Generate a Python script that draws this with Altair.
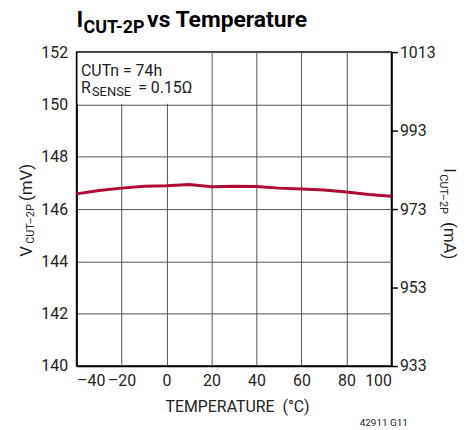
import altair as alt
import pandas as pd

# ---- data ----
temps = [-40, -30, -20, -10, 0, 10, 20, 30, 40, 50, 60, 70, 80, 90, 100]
vcut_mv = [146.58, 146.71, 146.80, 146.87, 146.89, 146.94, 146.85, 146.87,
           146.86, 146.80, 146.77, 146.73, 146.65, 146.56, 146.49]
rsense = 0.15
x_ticks = [-40, -20, 0, 20, 40, 60, 80, 100]
left_ticks = [140, 142, 144, 146, 148, 150, 152]
right_ticks = [933, 953, 973, 993, 1013]

df = pd.DataFrame({"temp": temps, "v": vcut_mv})
one = pd.DataFrame({"k": [0]})

FONT = "Roboto"
RED = "#ae0b36"

base = alt.Chart(df)

line = base.mark_line(color=RED, strokeWidth=3).encode(
    x=alt.X("temp:Q", scale=alt.Scale(domain=[-40, 100], nice=False, zero=False),
            axis=alt.Axis(values=x_ticks, title=None, grid=True, ticks=False,
                          labelPadding=7, format="d",
                          labelExpr="replace(datum.label, '\u2212', '\u2013')")),
    y=alt.Y("v:Q", scale=alt.Scale(domain=[140, 152], nice=False, zero=False),
            axis=alt.Axis(values=left_ticks, title=None, grid=True, ticks=False,
                          labelPadding=9, format="d")),
)

right = base.transform_calculate(i="datum.v / %s" % rsense).mark_line(opacity=0).encode(
    x=alt.X("temp:Q"),
    y=alt.Y("i:Q", scale=alt.Scale(domain=[933, 1013], nice=False, zero=False),
            axis=alt.Axis(orient="right", values=right_ticks, title=None, grid=False,
                          ticks=True, tickSize=6, tickColor="black", tickWidth=1.5,
                          labelPadding=2, format="d")),
)

box = alt.Chart(one).mark_rect(color="white").encode(
    x=alt.value(1), x2=alt.value(130), y=alt.value(1), y2=alt.value(52))


def txt(s, x, y, size, angle=0, bold=False, align="left"):
    props = dict(text=s, fontSize=size, font=FONT, align=align,
                 baseline="alphabetic", color="#222")
    if angle:
        props["angle"] = angle
    if bold:
        props["fontWeight"] = "bold"
        props["color"] = "black"
    return alt.Chart(one).mark_text(**props).encode(x=alt.value(x), y=alt.value(y))


texts = [
    # title
    txt("I", 0, -25, 23, bold=True),
    txt("CUT-2P", 7, -19.5, 18, bold=True),
    txt("vs Temperature", 71, -25, 23, bold=True),
    # annotation
    txt("CUTn = 74h", 4.5, 24, 16),
    txt("R", 4.5, 41, 16),
    txt("SENSE", 15.5, 44, 13),
    txt("= 0.15\u03a9", 62, 41, 16),
    # left axis title
    txt("V", -45, 206, 17, angle=270),
    txt("CUT\u20132P", -43, 193, 11, angle=270),
    txt("(mV)", -45, 150, 17, angle=270),
    # right axis title
    txt("I", 370, 117, 17, angle=90),
    txt("CUT\u20132P", 366, 123, 11, angle=90),
    txt("(mA)", 370, 171, 17, angle=90),
    # x axis title
    txt("TEMPERATURE\u00a0\u00a0(\u00b0C)", 162, 362, 16, align="center"),
    # figure code
    txt("42911 G11", 285, 376, 10),
]

chart = alt.layer(line, right, box, *texts).resolve_scale(y="independent").properties(
    width=317, height=316,
    autosize=alt.AutoSizeParams(type="none"),
    padding={"left": 69, "top": 43, "right": 70, "bottom": 62},
).configure_view(stroke="black", strokeWidth=1.5).configure_axis(
    labelFont=FONT, labelFontSize=16, labelColor="#222",
    gridColor="#555", gridWidth=1, gridOpacity=1,
    domainColor="black", domainWidth=1.5,
)

chart.save("out.html", embed_options={"renderer": "svg", "actions": False})
